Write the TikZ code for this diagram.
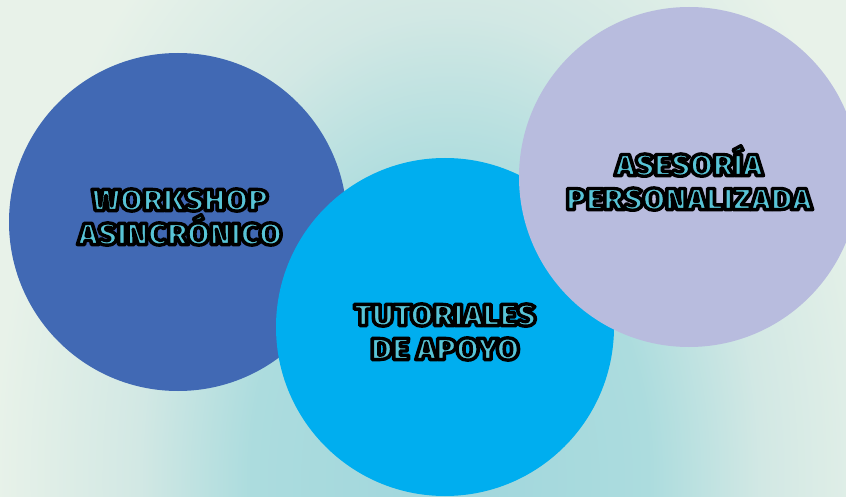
\documentclass[tikz,border=0pt]{standalone}
\usepackage{fontspec}
\newfontfamily\heavy{Fira Sans}[UprightFont=* Black]
\definecolor{cblue}{RGB}{65,105,180}
\definecolor{ccyan}{RGB}{0,174,239}
\definecolor{clav}{RGB}{184,188,222}
\definecolor{tfill}{RGB}{88,196,214}
\definecolor{bgin}{RGB}{160,214,220}
\definecolor{bgin2}{RGB}{172,220,222}
\definecolor{bgmid}{RGB}{210,232,228}
\definecolor{bgout}{RGB}{232,242,233}
\pgfdeclareradialshading{bgshade}{\pgfpoint{0bp}{0bp}}{color(0bp)=(bgin); color(8.3bp)=(bgin2); color(13bp)=(bgmid); color(19bp)=(bgout); color(50bp)=(bgout)}
\tikzset{
  bubble/.style={circle, draw=none, minimum size=#1, inner sep=0pt},
  label text/.style={text=tfill, font=\heavy\fontsize{29}{34}\selectfont, align=center, inner sep=0pt},
}
\newcommand{\ol}[1]{\scalebox{1.13}[1.05]{\special{pdf:literal direct 2 Tr 3.2 w 0 0 0 RG 1 j}#1\special{pdf:literal direct 0 Tr}}}
\begin{document}
\begin{tikzpicture}[x=1pt,y=-1pt]
\useasboundingbox (0,0) rectangle (846,497);
\begin{scope}
\clip (0,0) rectangle (846,497);
\fill[bgout] (0,0) rectangle (846,497);
\shade[shading=bgshade] (450,480) ellipse [x radius=600pt, y radius=900pt];
\node[bubble=338pt, fill=cblue] (ws) at (178,222) {};
\node[bubble=338pt, fill=ccyan] (tu) at (445,327) {};
\node[bubble=340pt, fill=clav] (as) at (689,177) {};
\end{scope}
\node[label text] (wst) at (180,217) {\ol{WORKSHOP}\\\ol{ASINCRÓNICO}};
\node[label text] (tut) at (445,332) {\ol{TUTORIALES}\\\ol{DE APOYO}};
\node[label text] (ast) at (689,178) {\ol{ASESORÍA}\\\ol{PERSONALIZADA}};
\end{tikzpicture}
\end{document}
